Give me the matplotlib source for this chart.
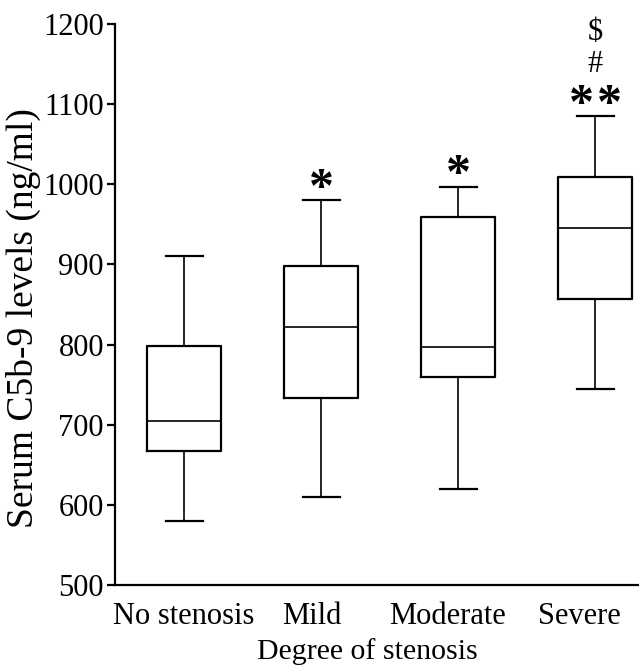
import matplotlib
matplotlib.use("Agg")
import matplotlib.pyplot as plt

categories = ["No stenosis", "Mild", "Moderate", "Severe"]
whisker_low = [580, 610, 620, 744]
q1 = [667, 733, 759, 857]
median = [705, 822, 797, 946]
q3 = [798, 898, 959, 1009]
whisker_high = [910, 980, 997, 1085]
marks = [[], ["*"], ["*"], ["**", "#", "$"]]

plt.rcParams["font.family"] = ["Liberation Serif", "DejaVu Serif"]

fig = plt.figure(figsize=(6.39, 6.70), dpi=100)
ax = fig.add_axes([0.18, 0.127, 0.82, 0.837])

stats = []
for i, c in enumerate(categories):
    stats.append(dict(label=c, whislo=whisker_low[i], q1=q1[i], med=median[i],
                      q3=q3[i], whishi=whisker_high[i], fliers=[]))

positions = list(range(1, len(categories) + 1))
ax.bxp(stats, positions=positions, widths=0.54, showfliers=False,
       boxprops=dict(color="black", linewidth=1.6),
       medianprops=dict(color="black", linewidth=1.2),
       whiskerprops=dict(color="black", linewidth=1.2),
       capprops=dict(color="black", linewidth=1.6))

ax.set_xlim(0.496, 4.32)
ax.set_ylim(500, 1200)
ax.set_yticks([500, 600, 700, 800, 900, 1000, 1100, 1200])
ax.spines["top"].set_visible(False)
ax.spines["right"].set_visible(False)
ax.spines["left"].set_linewidth(1.6)
ax.spines["bottom"].set_linewidth(1.6)
ax.tick_params(axis="y", direction="out", length=6, width=1.6, labelsize=22, pad=2)
ax.set_xticks(positions)
ax.set_xticklabels([""] * len(categories))
ax.tick_params(axis="x", length=0)

# category labels (slightly shifted left as in the original figure)
label_shift_pt = [0, -6.5, -8, -11]
for i, c in enumerate(categories):
    ax.annotate(c, xy=(positions[i], 0), xycoords=ax.get_xaxis_transform(),
                xytext=(label_shift_pt[i], -12), textcoords="offset points",
                ha="center", va="top", fontsize=22)

ax.set_ylabel("Serum C5b-9 levels (ng/ml)", fontsize=27)
ax.yaxis.set_label_coords(-0.141, 0.476)
ax.set_xlabel("Degree of stenosis", fontsize=21.5)
ax.xaxis.set_label_coords(0.481, -0.095)

for i, ms in enumerate(marks):
    for j, m in enumerate(ms):
        if "*" in m:
            n = len(m)
            for k in range(n):
                dx = (k - (n - 1) / 2) * 20
                ax.annotate("*", xy=(positions[i], whisker_high[i]), xytext=(dx, -9),
                            textcoords="offset points", ha="center", va="bottom",
                            fontsize=36, fontweight="bold")
        else:
            off = 26.6 if m == "#" else 50
            ax.annotate(m, xy=(positions[i], whisker_high[i]), xytext=(0, off),
                        textcoords="offset points", ha="center", va="bottom",
                        fontsize=22)

fig.savefig("out.png", dpi=100)
